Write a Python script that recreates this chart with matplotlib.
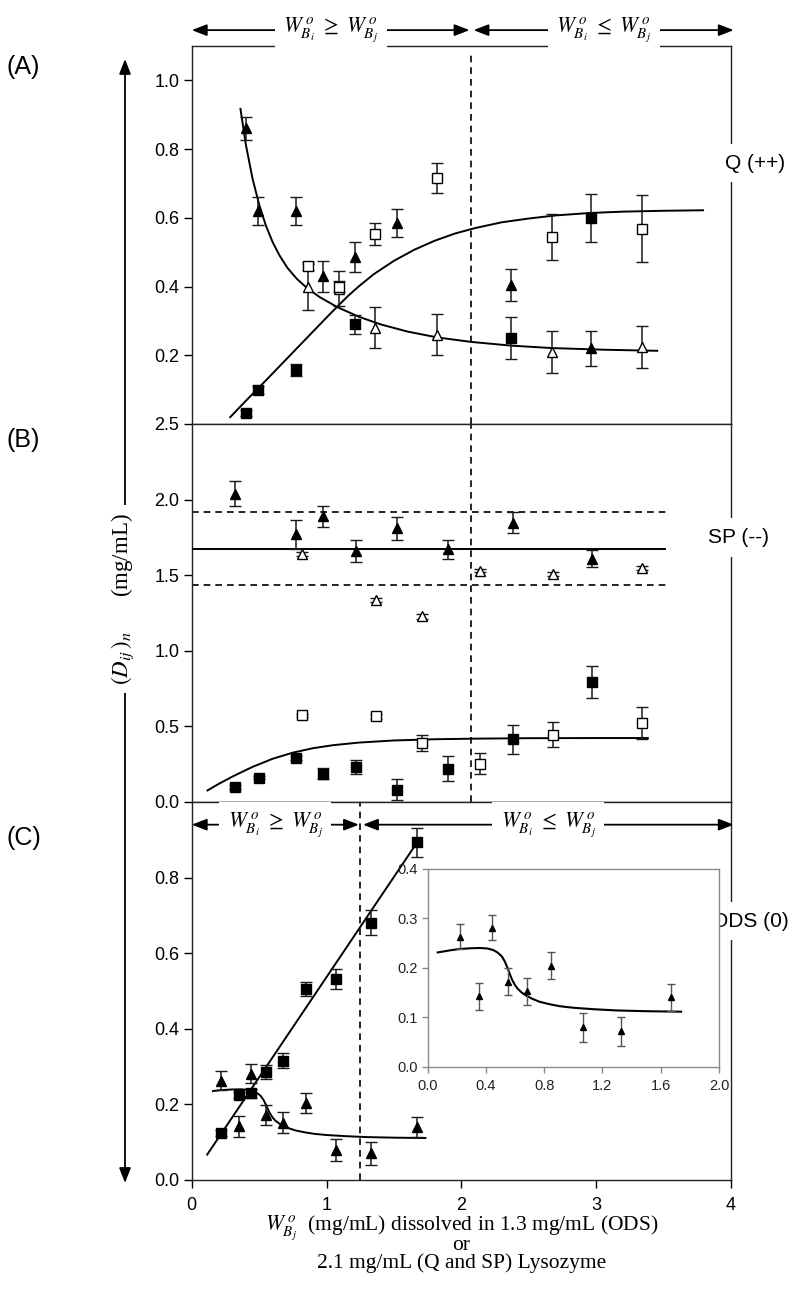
import numpy as np
import matplotlib
matplotlib.use('Agg')
import matplotlib.pyplot as plt
from matplotlib.patches import FancyArrowPatch
from matplotlib.ticker import FormatStrFormatter
import matplotlib.transforms as mtransforms

plt.rcParams['font.family'] = ['Liberation Sans', 'DejaVu Sans']
plt.rcParams['mathtext.fontset'] = 'stix'

# ---------------- Panel A : Q (++) ----------------
qa_tri_fill_x = [0.40, 0.49, 0.77, 0.97, 1.21, 1.52, 2.37, 2.96]
qa_tri_fill_y = [0.86, 0.62, 0.62, 0.43, 0.487, 0.584, 0.404, 0.22]
qa_tri_fill_e = [0.033, 0.04, 0.04, 0.045, 0.044, 0.041, 0.046, 0.051]

qa_tri_open_x = [0.86, 1.09, 1.36, 1.82, 2.67, 3.34]
qa_tri_open_y = [0.40, 0.394, 0.28, 0.26, 0.21, 0.224]
qa_tri_open_e = [0.067, 0.05, 0.06, 0.06, 0.062, 0.062]

qa_sq_fill_x = [0.40, 0.49, 0.77, 1.21, 2.37, 2.96]
qa_sq_fill_y = [0.032, 0.10, 0.157, 0.29, 0.25, 0.60]
qa_sq_fill_e = [0.01, 0.012, 0.018, 0.028, 0.062, 0.07]

qa_sq_open_x = [0.86, 1.09, 1.36, 1.82, 2.67, 3.34]
qa_sq_open_y = [0.459, 0.40, 0.553, 0.716, 0.545, 0.568]
qa_sq_open_e = [0.011, 0.015, 0.031, 0.043, 0.067, 0.097]

qa_fit_dec_x = [0.36, 0.40, 0.45, 0.50, 0.55, 0.60, 0.65, 0.71, 0.78, 0.86,
                0.95, 1.08, 1.24, 1.40, 1.60, 1.82, 2.07, 2.37, 2.67, 3.07, 3.46]
qa_fit_dec_y = [0.920, 0.815, 0.715, 0.638, 0.577, 0.529, 0.491, 0.454, 0.422,
                0.394, 0.369, 0.340, 0.312, 0.290, 0.269, 0.252, 0.239, 0.228,
                0.221, 0.216, 0.213]

qa_fit_inc_x = [0.28, 0.40, 0.55, 0.70, 0.85, 1.00, 1.08, 1.16, 1.24, 1.35,
                1.50, 1.65, 1.80, 1.95, 2.10, 2.30, 2.50, 2.70, 2.95, 3.20,
                3.50, 3.80]
qa_fit_inc_y = [0.018, 0.067, 0.127, 0.188, 0.249, 0.310, 0.342, 0.373, 0.401,
                0.436, 0.475, 0.507, 0.533, 0.554, 0.570, 0.587, 0.598, 0.607,
                0.614, 0.618, 0.6205, 0.622]

qa_split = 2.07

# ---------------- Panel B : SP (--) ----------------
sp_tri_fill_x = [0.32, 0.77, 0.97, 1.22, 1.52, 1.90, 2.38, 2.97]
sp_tri_fill_y = [2.04, 1.77, 1.89, 1.66, 1.81, 1.67, 1.846, 1.61]
sp_tri_fill_e = [0.084, 0.095, 0.068, 0.072, 0.074, 0.066, 0.07, 0.057]

sp_tri_open_x = [0.82, 1.37, 1.71, 2.14, 2.68, 3.34]
sp_tri_open_y = [1.64, 1.337, 1.227, 1.53, 1.51, 1.546]
sp_tri_open_e = [0.012, 0.014, 0.014, 0.012, 0.012, 0.012]

sp_sq_fill_x = [0.32, 0.50, 0.77, 0.97, 1.22, 1.52, 1.90, 2.38, 2.97]
sp_sq_fill_y = [0.099, 0.161, 0.291, 0.187, 0.231, 0.081, 0.22, 0.414, 0.793]
sp_sq_fill_e = [0.012, 0.012, 0.014, 0.038, 0.048, 0.068, 0.081, 0.096, 0.107]

sp_sq_open_x = [0.82, 1.37, 1.71, 2.14, 2.68, 3.34]
sp_sq_open_y = [0.573, 0.566, 0.39, 0.253, 0.445, 0.524]
sp_sq_open_e = [0.012, 0.015, 0.05, 0.07, 0.083, 0.107]

sp_mean = 1.672
sp_band = [1.921, 1.438]
sp_line_end = 3.52

sp_fit_x = [0.11, 0.20, 0.31, 0.45, 0.60, 0.75, 0.90, 1.05, 1.24, 1.50, 1.80,
            2.10, 2.50, 3.00, 3.39]
sp_fit_y = [0.073, 0.120, 0.172, 0.232, 0.286, 0.3265, 0.356, 0.376, 0.393,
            0.407, 0.415, 0.419, 0.422, 0.423, 0.423]

# ---------------- Panel C : ODS (0) ----------------
ods_x = [0.22, 0.35, 0.44, 0.55, 0.68, 0.85, 1.07, 1.33, 1.67]
ods_tri_y = [0.263, 0.142, 0.281, 0.172, 0.152, 0.204, 0.079, 0.071, 0.140]
ods_tri_e = [0.025, 0.028, 0.025, 0.027, 0.027, 0.027, 0.029, 0.030, 0.027]
ods_sq_y = [0.125, 0.224, 0.229, 0.285, 0.316, 0.505, 0.532, 0.681, 0.893]
ods_sq_e = [0.008, 0.008, 0.012, 0.018, 0.02, 0.018, 0.027, 0.032, 0.038]

ods_line_x = [0.11, 1.66]
ods_line_y = [0.065, 0.887]

ods_fit_x = [0.07, 0.15, 0.22, 0.30, 0.36, 0.41, 0.45, 0.48, 0.51, 0.53, 0.55,
             0.565, 0.58, 0.60, 0.62, 0.65, 0.68, 0.72, 0.77, 0.84, 0.91,
             1.00, 1.14, 1.30, 1.50, 1.74]
ods_fit_y = [0.231, 0.235, 0.238, 0.2395, 0.240, 0.239, 0.236, 0.231, 0.223,
             0.213, 0.199, 0.187, 0.176, 0.165, 0.157, 0.149, 0.143, 0.137,
             0.131, 0.126, 0.122, 0.119, 0.116, 0.1135, 0.112, 0.111]

ods_split = 1.25

xticks_main = [0, 1, 2, 3, 4]
inset_xticks = [0.0, 0.4, 0.8, 1.2, 1.6, 2.0]
inset_yticks = [0.0, 0.1, 0.2, 0.3, 0.4]

# ---------------- Figure layout ----------------
W_PX, H_PX = 800, 1292
fig = plt.figure(figsize=(W_PX / 100, H_PX / 100), dpi=100)

L = 191.8 / W_PX
WD = (731.0 - 191.8) / W_PX
PH = 378.0 / H_PX
axA = fig.add_axes([L, 1 - 424 / H_PX, WD, PH])
axB = fig.add_axes([L, 1 - 802 / H_PX, WD, PH])
axC = fig.add_axes([L, 1 - 1180 / H_PX, WD, PH])

SPINE_C = '#222222'
for ax in (axA, axB, axC):
    ax.set_xlim(0, 4)
    for s in ax.spines.values():
        s.set_linewidth(1.0)
        s.set_color(SPINE_C)
    ax.tick_params(axis='y', direction='out', length=6, width=1.0,
                   labelsize=13, pad=3, colors='black')
    ax.yaxis.set_major_formatter(FormatStrFormatter('%.1f'))

for ax in (axA, axB):
    ax.tick_params(axis='x', bottom=False, labelbottom=False)
axC.set_xticks(xticks_main)
axC.tick_params(axis='x', direction='out', length=6, width=1.0, labelsize=13, pad=6)

axA.set_ylim(0, 1.1)
axA.set_yticks([0.2, 0.4, 0.6, 0.8, 1.0])
axB.set_ylim(0, 2.5)
axB.set_yticks([0.0, 0.5, 1.0, 1.5, 2.0, 2.5])
axC.set_ylim(0, 1.0)
axC.set_yticks([0.0, 0.2, 0.4, 0.6, 0.8])

EB = dict(ecolor='#1a1a1a', elinewidth=1.1, capsize=4.2, capthick=1.1, ls='none')


def pts(ax, x, y, e, marker, filled, ms):
    ax.errorbar(x, y, yerr=e, fmt=marker, ms=ms,
                mfc='black' if filled else 'white', mec='black', mew=1.0,
                zorder=4, **EB)


FIT = dict(color='black', lw=1.4, zorder=3, solid_capstyle='butt',
           solid_joinstyle='round')
DASH = dict(color='black', lw=1.2, ls=(0, (4, 3)), zorder=2)

# Panel A
axA.plot(qa_fit_dec_x, qa_fit_dec_y, **FIT)
axA.plot(qa_fit_inc_x, qa_fit_inc_y, **FIT)
axA.plot([qa_split, qa_split], [0, 1.075], **DASH)
pts(axA, qa_tri_open_x, qa_tri_open_y, qa_tri_open_e, '^', False, 7.8)
pts(axA, qa_sq_open_x, qa_sq_open_y, qa_sq_open_e, 's', False, 6.6)
pts(axA, qa_tri_fill_x, qa_tri_fill_y, qa_tri_fill_e, '^', True, 7.8)
pts(axA, qa_sq_fill_x, qa_sq_fill_y, qa_sq_fill_e, 's', True, 6.6)

# Panel B
axB.plot([0, sp_line_end], [sp_mean, sp_mean], **FIT)
for yb in sp_band:
    axB.plot([0, sp_line_end], [yb, yb], **DASH)
axB.plot([qa_split, qa_split], [0, 2.5], **DASH)
axB.plot(sp_fit_x, sp_fit_y, **FIT)
pts(axB, sp_tri_open_x, sp_tri_open_y, sp_tri_open_e, '^', False, 7.8)
pts(axB, sp_sq_open_x, sp_sq_open_y, sp_sq_open_e, 's', False, 6.6)
pts(axB, sp_tri_fill_x, sp_tri_fill_y, sp_tri_fill_e, '^', True, 7.8)
pts(axB, sp_sq_fill_x, sp_sq_fill_y, sp_sq_fill_e, 's', True, 6.6)

# Panel C
axC.plot(ods_line_x, ods_line_y, **FIT)
axC.plot(ods_fit_x[1:], ods_fit_y[1:], **FIT)
axC.plot([ods_split, ods_split], [0, 1.0], **DASH)
pts(axC, ods_x, ods_sq_y, ods_sq_e, 's', True, 6.6)
pts(axC, ods_x, ods_tri_y, ods_tri_e, '^', True, 7.8)

# Inset
axI = fig.add_axes([427.5 / W_PX, 1 - 1066.5 / H_PX, 291.5 / W_PX, 197.5 / H_PX])
axI.set_xlim(0, 2.0)
axI.set_ylim(0, 0.4)
axI.set_xticks(inset_xticks)
axI.set_yticks(inset_yticks)
axI.xaxis.set_major_formatter(FormatStrFormatter('%.1f'))
axI.yaxis.set_major_formatter(FormatStrFormatter('%.1f'))
for s in axI.spines.values():
    s.set_color('#8a8a8a')
    s.set_linewidth(1.0)
axI.tick_params(direction='out', length=4, width=1.0, color='#8a8a8a',
                labelsize=10.5, labelcolor='#222222', pad=3)
axI.tick_params(axis='x', pad=5)
axI.plot(ods_fit_x, ods_fit_y, color='black', lw=1.5, zorder=3,
         solid_joinstyle='round')
axI.errorbar(ods_x, ods_tri_y, yerr=ods_tri_e, fmt='^', ms=4.2, mfc='black',
             mec='black', ecolor='#555555', elinewidth=1.0, capsize=3,
             capthick=1.0, zorder=4)

# ---------------- Header arrows ----------------
ARW = dict(arrowstyle='<|-|>,head_length=0.9,head_width=0.35', color='black',
           lw=1.3, mutation_scale=10, shrinkA=0, shrinkB=0)
LBL_GE = r'$W^{\,o}_{B_{i}}\ \geq\ W^{\,o}_{B_{j}}$'
LBL_LE = r'$W^{\,o}_{B_{i}}\ \leq\ W^{\,o}_{B_{j}}$'


def header(ax, yfrac, x0, x1, label):
    tr = mtransforms.blended_transform_factory(ax.transData, ax.transAxes)
    ax.annotate('', xy=(x0, yfrac), xytext=(x1, yfrac), xycoords=tr,
                textcoords=tr, arrowprops=ARW, annotation_clip=False)
    ax.text((x0 + x1) / 2, yfrac, label, transform=tr, ha='center',
            va='center', fontsize=15.5, zorder=10, clip_on=False,
            bbox=dict(fc='white', ec='none', pad=6))


header(axA, 1.042, 0.0, 2.06, LBL_GE)
header(axA, 1.042, 2.09, 4.02, LBL_LE)
header(axC, 0.94, 0.0, 1.24, LBL_GE)
header(axC, 0.94, 1.27, 4.02, LBL_LE)

# ---------------- Right-hand labels ----------------
RB = dict(fc='white', ec='none', pad=7)
for ax, txt, xpx, yf in ((axA, 'Q (++)', 725, 0.69), (axB, 'SP (--)', 708, 0.70),
                         (axC, 'ODS (0)', 712, 0.685)):
    ax.text((xpx - 191.8) / (731.0 - 191.8), yf, txt, transform=ax.transAxes,
            ha='left', va='center', fontsize=15, zorder=10, clip_on=False,
            bbox=RB)

# ---------------- Panel letters ----------------
for txt, ypx in (('(A)', 67), ('(B)', 440), ('(C)', 838)):
    fig.text(6 / W_PX, 1 - ypx / H_PX, txt, ha='left', va='center', fontsize=18)

# ---------------- Y-axis arrow & label ----------------
xa = 125 / W_PX
arr = FancyArrowPatch((xa, 1 - 1183 / H_PX), (xa, 1 - 59 / H_PX),
                      transform=fig.transFigure, arrowstyle=ARW['arrowstyle'],
                      color='black', lw=1.3, mutation_scale=10,
                      shrinkA=0, shrinkB=0, zorder=1)
fig.add_artist(arr)
fig.text(xa - 2 / W_PX, 1 - 599 / H_PX, r'$(D_{ij}\,)_n$' + '      (mg/mL)',
         rotation=90, ha='center', va='center', fontsize=16.5,
         family='Liberation Serif', zorder=5,
         bbox=dict(fc='white', ec='none', pad=6))

# ---------------- X-axis label ----------------
xc = (191.8 + 731.0) / 2 / W_PX
fig.text(xc, 1 - 1213 / H_PX,
         r'$W^{\,o}_{B_{j}}$' + '  (mg/mL) dissolved in 1.3 mg/mL (ODS)\nor',
         ha='center', va='top', ma='center', fontsize=15.5, linespacing=0.6,
         family='Liberation Serif')
fig.text(xc, 1 - 1268 / H_PX, '2.1 mg/mL (Q and SP) Lysozyme',
         ha='center', va='baseline', fontsize=15.5, family='Liberation Serif')

fig.savefig('out.png', dpi=100)
